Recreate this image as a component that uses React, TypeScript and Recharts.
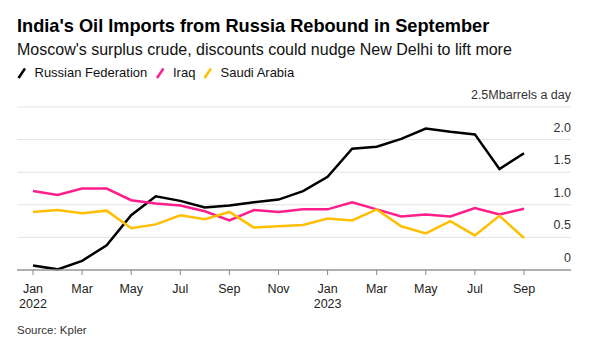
import React from "react";
import { LineChart, Line, XAxis, YAxis, CartesianGrid } from "recharts";

const months = ["Jan", "Feb", "Mar", "Apr", "May", "Jun", "Jul", "Aug", "Sep", "Oct", "Nov", "Dec", "Jan", "Feb", "Mar", "Apr", "May", "Jun", "Jul", "Aug", "Sep"];
const years = ["2022", "2022", "2022", "2022", "2022", "2022", "2022", "2022", "2022", "2022", "2022", "2022", "2023", "2023", "2023", "2023", "2023", "2023", "2023", "2023", "2023"];
const russia = [0.07, 0.01, 0.14, 0.38, 0.84, 1.13, 1.06, 0.96, 0.99, 1.04, 1.08, 1.21, 1.43, 1.86, 1.89, 2.01, 2.17, 2.12, 2.08, 1.55, 1.79];
const iraq = [1.21, 1.15, 1.25, 1.25, 1.07, 1.02, 0.99, 0.9, 0.76, 0.92, 0.89, 0.93, 0.93, 1.04, 0.93, 0.82, 0.85, 0.82, 0.95, 0.85, 0.94];
const saudi = [0.89, 0.92, 0.87, 0.91, 0.64, 0.7, 0.84, 0.78, 0.89, 0.65, 0.67, 0.69, 0.79, 0.76, 0.93, 0.67, 0.56, 0.75, 0.53, 0.83, 0.49];
const yTicks = [0, 0.5, 1, 1.5, 2, 2.5];
const yTickLabels = ["0", "0.5", "1.0", "1.5", "2.0", "2.5Mbarrels a day"];

const FONT = "'Liberation Sans', Arial, Helvetica, sans-serif";
const BLACK = "#000000";
const PINK = "#ff1e8c";
const YELLOW = "#ffbf00";

const data = months.map((m, i) => ({
  label: `${m} ${years[i]}`,
  russia: russia[i],
  iraq: iraq[i],
  saudi: saudi[i],
}));

const XTick = (props: any) => {
  const { x, y, payload } = props;
  const [m, yr] = String(payload.value).split(" ");
  return (
    <g>
      <text x={x} y={y + 17.5} textAnchor="middle" fontFamily={FONT} fontSize={12.5} fill="#222">
        {m}
      </text>
      {m === "Jan" && (
        <text x={x} y={y + 33} textAnchor="middle" fontFamily={FONT} fontSize={12.5} fill="#222">
          {yr}
        </text>
      )}
    </g>
  );
};

const YTick = (props: any) => {
  const { x, y, payload } = props;
  const idx = yTicks.indexOf(payload.value);
  return (
    <text x={x} y={y - 8} textAnchor="end" fontFamily={FONT} fontSize={12.5} fill="#333">
      {yTickLabels[idx]}
    </text>
  );
};

const legendItems = [
  { name: "Russian Federation", color: BLACK, x: 18 },
  { name: "Iraq", color: PINK, x: 156.5 },
  { name: "Saudi Arabia", color: YELLOW, x: 204 },
];

export default function App() {
  return (
    <div style={{ position: "absolute", left: 0, top: 0, width: 600, height: 357, background: "#fff", overflow: "hidden" }}>
      <div style={{ position: "absolute", left: 0, top: 0 }}>
        <LineChart width={600} height={357} data={data} margin={{ top: 107, right: 29, left: 17, bottom: 47 }}>
          <CartesianGrid horizontal={true} vertical={false} stroke="#e3e3e3" strokeWidth={1} />
          <XAxis
            dataKey="label"
            interval={1}
            height={40}
            padding={{ left: 16, right: 47 }}
            tickSize={5}
            tickMargin={0}
            stroke="#999"
            tickLine={{ stroke: "#888" }}
            axisLine={{ stroke: "#999", strokeWidth: 1.5 }}
            tick={<XTick />}
          />
          <YAxis
            orientation="right"
            mirror
            domain={[0, 2.5]}
            ticks={yTicks}
            axisLine={false}
            tickLine={false}
            tickSize={0}
            tickMargin={0}
            width={60}
            tick={<YTick />}
          />
          <Line type="linear" dataKey="russia" stroke={BLACK} strokeWidth={2.5} dot={false} isAnimationActive={false} />
          <Line type="linear" dataKey="iraq" stroke={PINK} strokeWidth={2.5} dot={false} isAnimationActive={false} />
          <Line type="linear" dataKey="saudi" stroke={YELLOW} strokeWidth={2.5} dot={false} isAnimationActive={false} />
        </LineChart>
      </div>
      <svg width={600} height={357} style={{ position: "absolute", left: 0, top: 0, pointerEvents: "none" }}>
        <text x={17} y={32} fontFamily={FONT} fontSize={18.2} fontWeight="bold" fill="#000">
          India's Oil Imports from Russia Rebound in September
        </text>
        <text x={17} y={55} fontFamily={FONT} fontSize={16} fill="#111">
          Moscow's surplus crude, discounts could nudge New Delhi to lift more
        </text>
        {legendItems.map((it) => (
          <g key={it.name}>
            <line x1={it.x + 0.5} y1={78} x2={it.x + 7} y2={68.5} stroke={it.color} strokeWidth={2.5} />
            <text x={it.x + 16.5} y={77.3} fontFamily={FONT} fontSize={13} fill="#111">
              {it.name}
            </text>
          </g>
        ))}
        <text x={17} y={333.5} fontFamily={FONT} fontSize={11.5} fill="#333">
          Source: Kpler
        </text>
      </svg>
    </div>
  );
}
